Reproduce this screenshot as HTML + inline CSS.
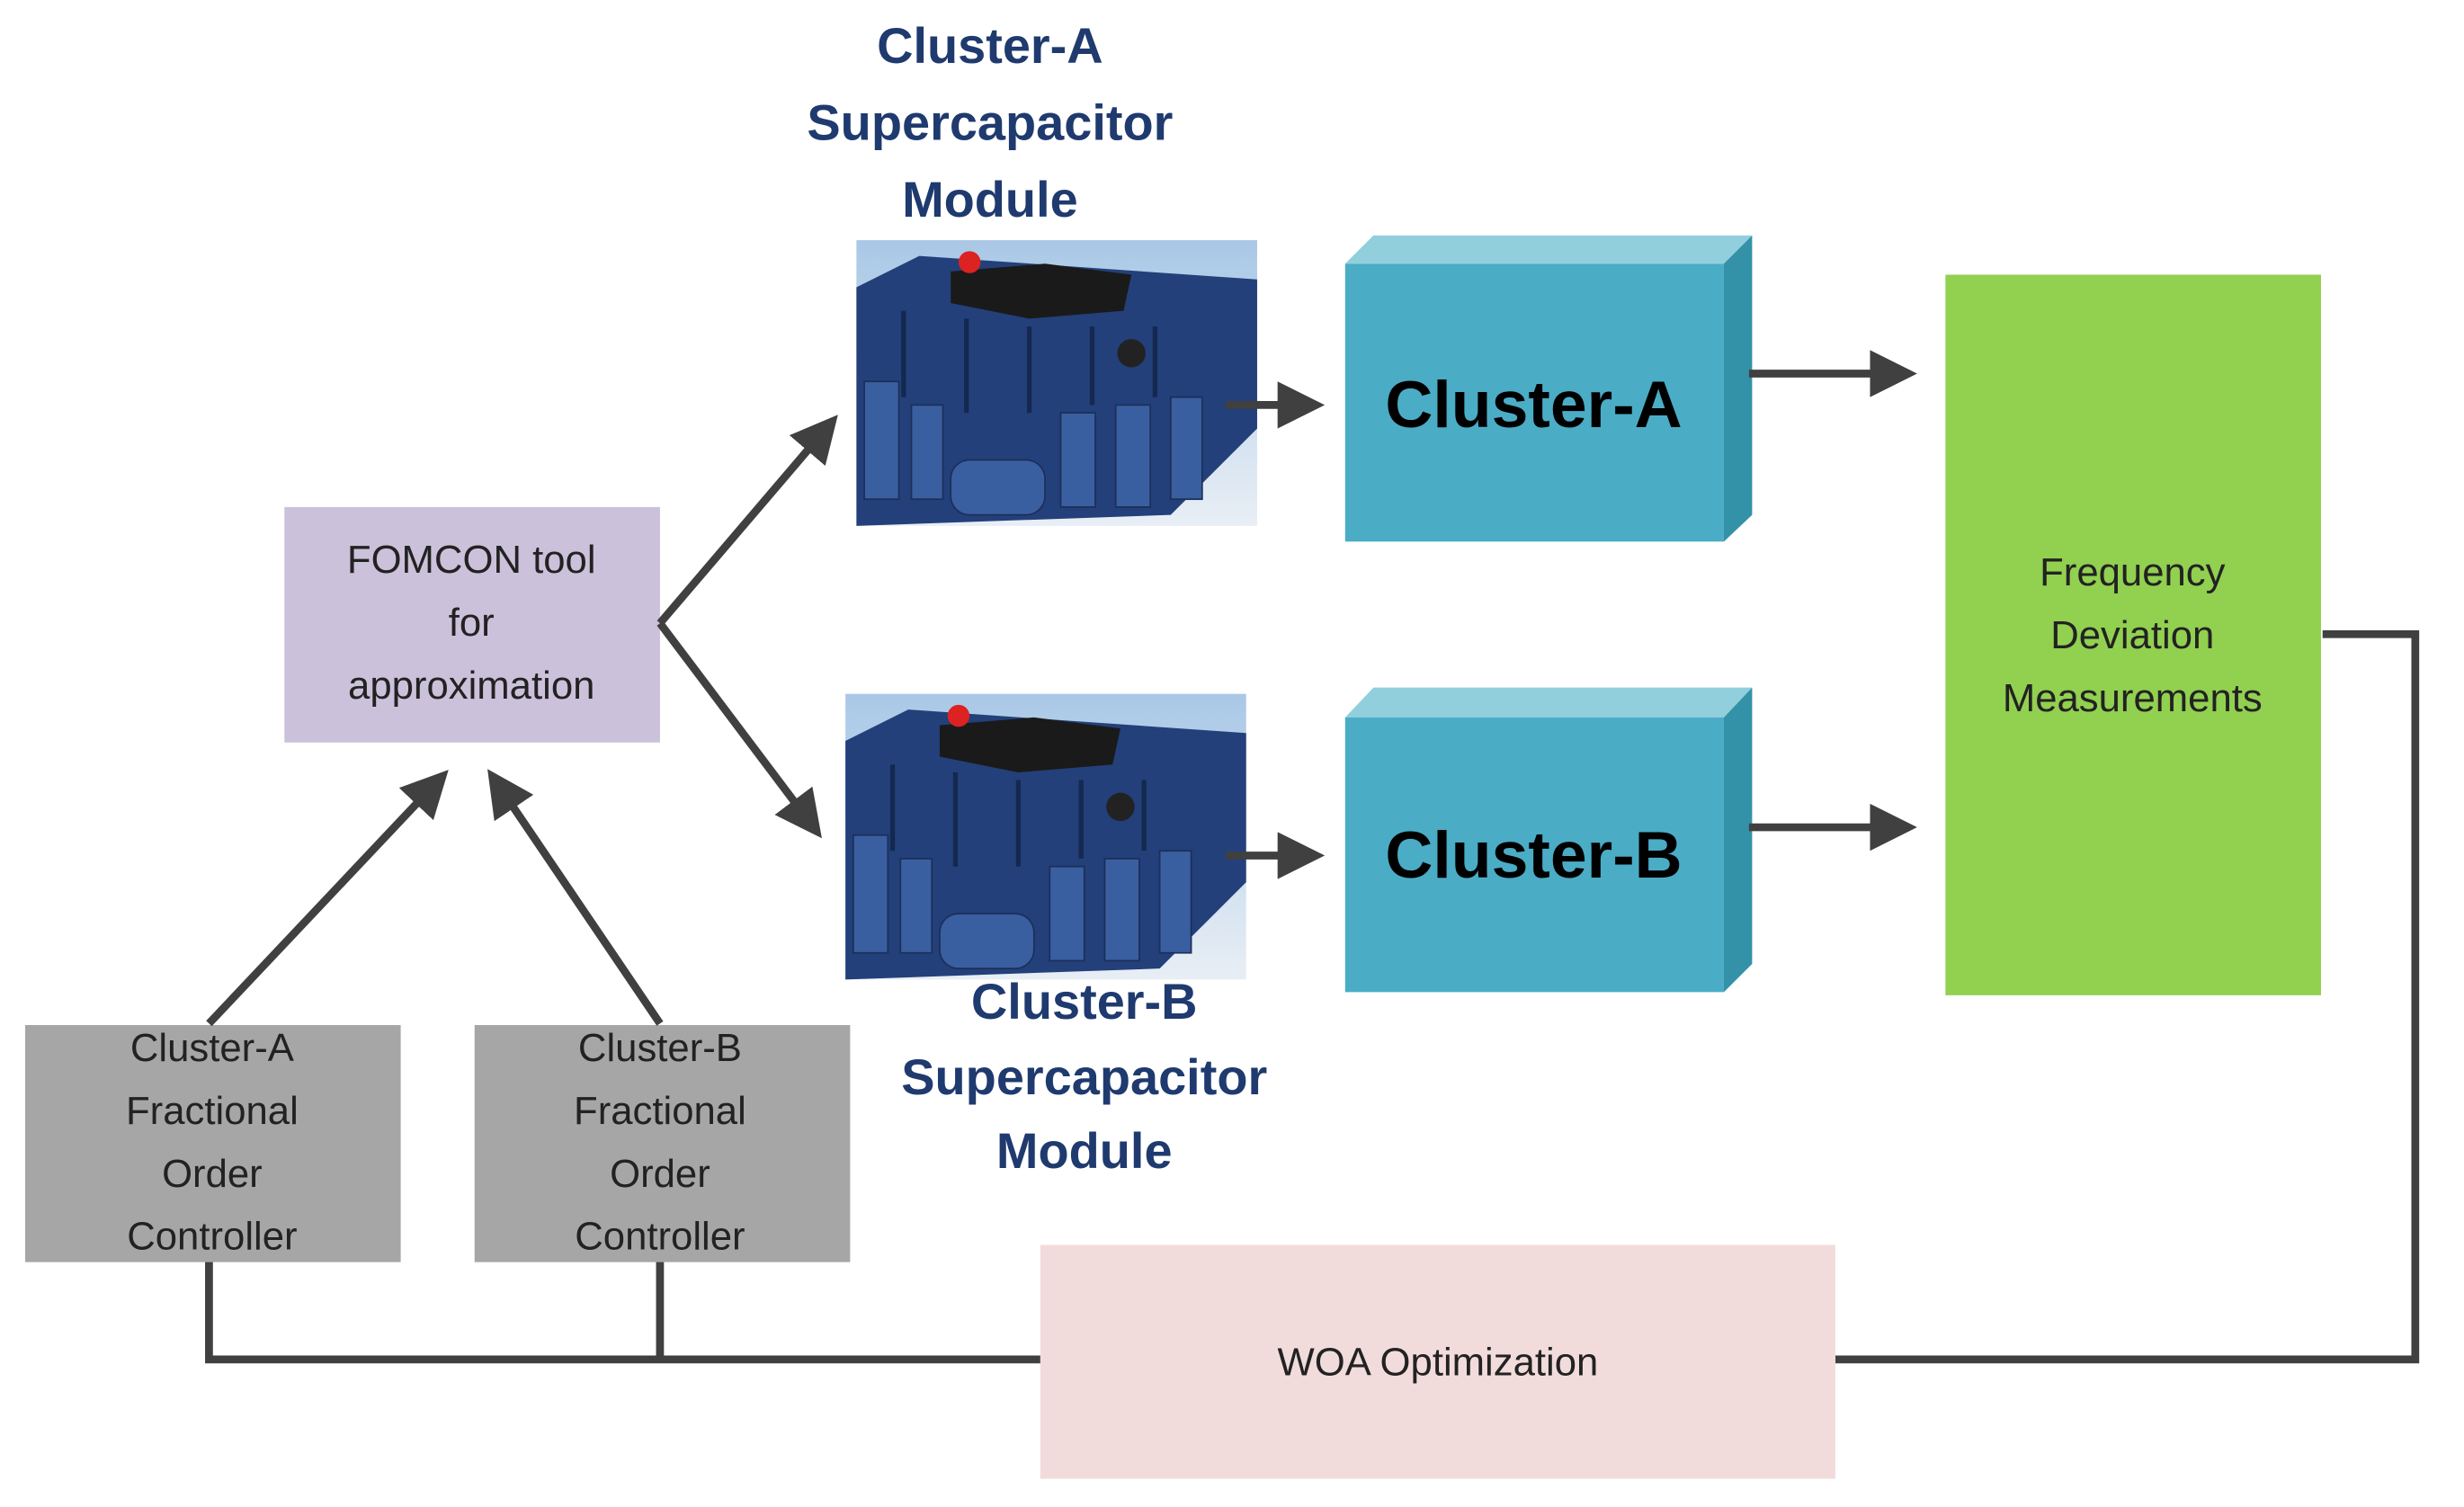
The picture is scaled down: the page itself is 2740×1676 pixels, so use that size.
<!DOCTYPE html>
<html><head><meta charset="utf-8"><style>
html,body{margin:0;padding:0;background:#fff;}
svg{display:block;}
text{font-family:"Liberation Sans",sans-serif;}
</style></head><body>
<svg width="2740" height="1676" viewBox="0 0 1568 960" preserveAspectRatio="none" xmlns="http://www.w3.org/2000/svg">
<defs>
<marker id="ah" markerWidth="6" markerHeight="6" refX="5" refY="3" orient="auto" markerUnits="strokeWidth">
<path d="M0,0 L6,3 L0,6 Z" fill="#404040"/></marker>
<linearGradient id="sky" x1="0" y1="0" x2="0" y2="1"><stop offset="0" stop-color="#a9c8e6"/><stop offset="1" stop-color="#e8eef5"/></linearGradient>
<g id="cap">
<rect x="0" y="0" width="255" height="182" fill="url(#sky)"/>
<path d="M0,30 L40,10 L255,25 L255,120 L200,175 L0,182 Z" fill="#23407a"/>
<path d="M60,20 L120,15 L175,22 L170,45 L110,50 L60,40 Z" fill="#1a1a1a"/>
<circle cx="72" cy="14" r="7" fill="#d22"/>
<circle cx="175" cy="72" r="9" fill="#222"/>
<g fill="#3a5fa0" stroke="#1c2f5a" stroke-width="1">
<rect x="5" y="90" width="22" height="75"/><rect x="35" y="105" width="20" height="60"/>
<rect x="130" y="110" width="22" height="60"/><rect x="165" y="105" width="22" height="65"/>
<rect x="60" y="140" width="60" height="35" rx="12"/><rect x="200" y="100" width="20" height="65"/>
</g>
<g stroke="#142850" stroke-width="3"><line x1="30" y1="45" x2="30" y2="100"/><line x1="70" y1="50" x2="70" y2="110"/><line x1="110" y1="55" x2="110" y2="110"/><line x1="150" y1="55" x2="150" y2="105"/><line x1="190" y1="55" x2="190" y2="100"/></g>
</g>
</defs>

<g font-weight="bold" fill="#1f3a6e" font-size="32" text-anchor="middle">
<text x="630" y="40">Cluster-A</text>
<text x="630" y="89">Supercapacitor</text>
<text x="630" y="138">Module</text>
<text x="690" y="649">Cluster-B</text>
<text x="690" y="697">Supercapacitor</text>
<text x="690" y="744">Module</text>
</g>

<use href="#cap" x="545" y="153"/>
<use href="#cap" x="538" y="442"/>

<g>
<path d="M856,168 L874,150 L1115,150 L1097,168 Z" fill="#92cfdc"/>
<path d="M1097,168 L1115,150 L1115,328 L1097,345 Z" fill="#3392a8"/>
<rect x="856" y="168" width="241" height="177" fill="#4bacc6"/>
<text x="976" y="272" text-anchor="middle" font-size="42" font-weight="bold" fill="#000">Cluster-A</text>
<path d="M856,457 L874,438 L1115,438 L1097,457 Z" fill="#92cfdc"/>
<path d="M1097,457 L1115,438 L1115,614 L1097,632 Z" fill="#3392a8"/>
<rect x="856" y="457" width="241" height="175" fill="#4bacc6"/>
<text x="976" y="559" text-anchor="middle" font-size="42" font-weight="bold" fill="#000">Cluster-B</text>
</g>

<rect x="1238" y="175" width="239" height="459" fill="#92d050"/>
<g font-size="25" text-anchor="middle" fill="#222">
<text x="1357" y="373">Frequency</text>
<text x="1357" y="413">Deviation</text>
<text x="1357" y="453">Measurements</text>
</g>

<rect x="181" y="323" width="239" height="150" fill="#ccc1da"/>
<g font-size="25" text-anchor="middle" fill="#222">
<text x="300" y="365">FOMCON tool</text>
<text x="300" y="405">for</text>
<text x="300" y="445">approximation</text>
</g>

<rect x="16" y="653" width="239" height="151" fill="#a6a6a6"/>
<rect x="302" y="653" width="239" height="151" fill="#a6a6a6"/>
<g font-size="25" text-anchor="middle" fill="#222">
<text x="135" y="676">Cluster-A</text><text x="135" y="716">Fractional</text><text x="135" y="756">Order</text><text x="135" y="796">Controller</text>
<text x="420" y="676">Cluster-B</text><text x="420" y="716">Fractional</text><text x="420" y="756">Order</text><text x="420" y="796">Controller</text>
</g>

<rect x="662" y="793" width="506" height="149" fill="#f2dcdb"/>
<text x="915" y="876" font-size="25" text-anchor="middle" fill="#222">WOA Optimization</text>

<g stroke="#404040" stroke-width="5" fill="none">
<polyline points="133,804 133,866 662,866"/>
<line x1="420" y1="804" x2="420" y2="866"/>
<polyline points="1168,866 1537,866 1537,404 1478,404"/>
<g marker-end="url(#ah)">
<line x1="420" y1="397" x2="530" y2="268"/>
<line x1="420" y1="397" x2="520" y2="530"/>
<line x1="133" y1="652" x2="282" y2="494"/>
<line x1="420" y1="652" x2="313" y2="494"/>
<line x1="780" y1="258" x2="838" y2="258"/>
<line x1="780" y1="545" x2="838" y2="545"/>
<line x1="1113" y1="238" x2="1215" y2="238"/>
<line x1="1113" y1="527" x2="1215" y2="527"/>
</g>
</g>
</svg>
</body></html>
